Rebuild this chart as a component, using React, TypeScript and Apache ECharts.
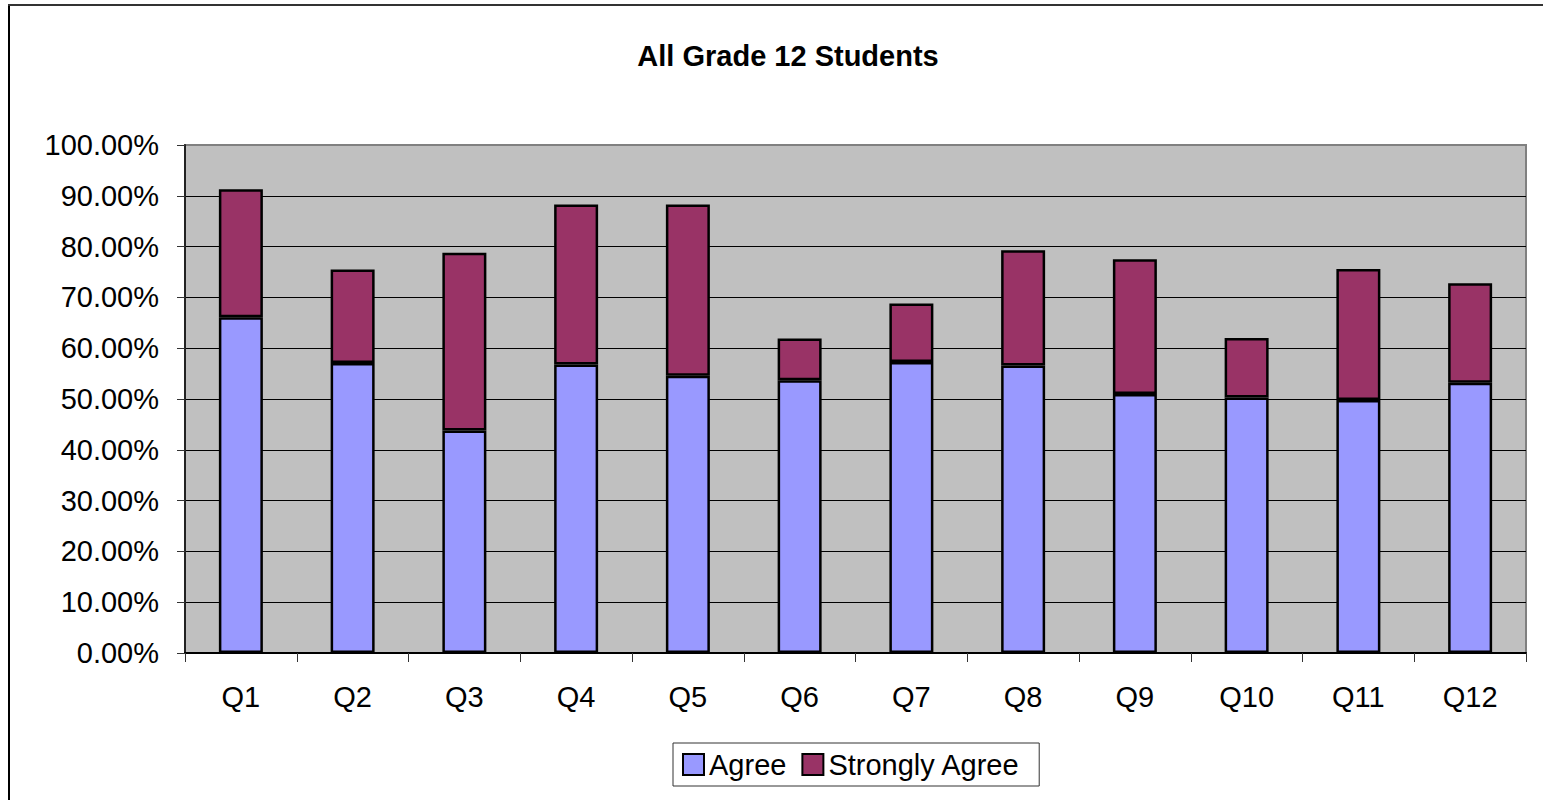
import React, { useEffect, useRef } from "react";
import * as echarts from "echarts";

const categories = ["Q1", "Q2", "Q3", "Q4", "Q5", "Q6", "Q7", "Q8", "Q9", "Q10", "Q11", "Q12"];
const agree = [66.1, 57.1, 43.8, 56.8, 54.6, 53.7, 57.3, 56.6, 51.0, 50.3, 49.8, 53.2];
const stronglyAgree = [25.2, 18.4, 35.0, 31.5, 33.7, 8.2, 11.5, 22.7, 26.5, 11.7, 25.8, 19.6];
const titleText = "All Grade 12 Students";

const FONT = "'Liberation Sans', Arial, sans-serif";

export default function App() {
  const ref = useRef<HTMLDivElement>(null);
  useEffect(() => {
    if (!ref.current) return;
    const chart = echarts.init(ref.current, undefined, { renderer: "svg" });
    chart.setOption({
      animation: false,
      backgroundColor: "#ffffff",
      title: {
        text: titleText,
        left: 783,
        top: 36,
        textAlign: "center",
        textStyle: { fontFamily: FONT, fontSize: 29, fontWeight: "bold", color: "#000" },
      },
      legend: {
        data: ["Agree", "Strongly Agree"],
        left: 673,
        top: 743,
        itemWidth: 21,
        itemHeight: 21,
        itemGap: 15,
        icon: "rect",
        padding: [7, 19, 7, 9],
        borderColor: "#333",
        borderWidth: 1,
        textStyle: { fontFamily: FONT, fontSize: 29, color: "#000" },
      },
      grid: {
        left: 185,
        right: 17,
        top: 145,
        bottom: 147,
        show: true,
        backgroundColor: "#C0C0C0",
        borderColor: "#808080",
        borderWidth: 2,
      },
      xAxis: {
        type: "category",
        data: categories,
        axisLine: { lineStyle: { color: "#000", width: 2 } },
        axisTick: { show: true, length: 9, lineStyle: { color: "#333", width: 1 } },
        axisLabel: { fontFamily: FONT, fontSize: 29, color: "#000", margin: 29 },
      },
      yAxis: {
        type: "value",
        min: 0,
        max: 100,
        interval: 10,
        axisLine: { show: true, lineStyle: { color: "#222", width: 2 } },
        axisTick: { show: true, length: 8, lineStyle: { color: "#333", width: 1 } },
        axisLabel: {
          fontFamily: FONT,
          fontSize: 29,
          color: "#000",
          margin: 26,
          formatter: (v: number) => v.toFixed(2) + "%",
        },
        splitLine: { show: true, showMaxLine: false, lineStyle: { color: "#000", width: 1 } },
      },
      series: [
        {
          name: "Agree",
          type: "bar",
          stack: "total",
          barWidth: 44,
          data: agree,
          itemStyle: { color: "#9999FF", borderColor: "#000", borderWidth: 2.5 },
        },
        {
          name: "Strongly Agree",
          type: "bar",
          stack: "total",
          barWidth: 44,
          data: stronglyAgree,
          itemStyle: { color: "#993366", borderColor: "#000", borderWidth: 2.5 },
        },
      ],
      graphic: [
        {
          type: "line",
          shape: { x1: 9, y1: 5, x2: 9, y2: 800 },
          style: { stroke: "#000", lineWidth: 2 },
        },
        {
          type: "line",
          shape: { x1: 8, y1: 5, x2: 1543, y2: 5 },
          style: { stroke: "#333", lineWidth: 2 },
        },
      ],
    });
    return () => chart.dispose();
  }, []);
  return (
    <div
      ref={ref}
      style={{ position: "absolute", left: 0, top: 0, width: 1543, height: 800 }}
    />
  );
}
